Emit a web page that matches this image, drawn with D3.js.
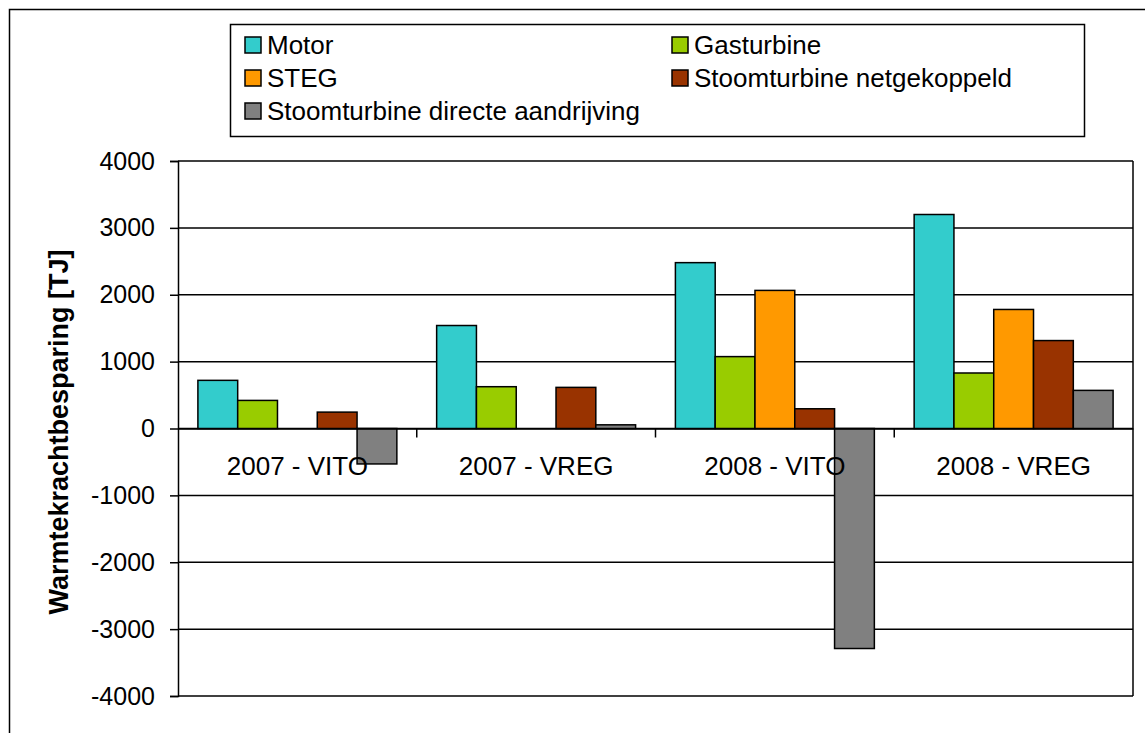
<!DOCTYPE html>
<html>
<head>
<meta charset="utf-8">
<script src="https://cdn.jsdelivr.net/npm/d3@7"></script>
<style>
    body { margin: 0; background: #fff; }
    svg { font-family: "Liberation Sans", Arial, sans-serif; }
</style>
</head>
<body>
<svg id="chart" width="1145" height="733"></svg>
<script>
// data
var categories = ["2007 - VITO", "2007 - VREG", "2008 - VITO", "2008 - VREG"]
var seriesNames = ["Motor", "Gasturbine", "STEG", "Stoomturbine netgekoppeld", "Stoomturbine directe aandrijving"]
var motor = [720, 1540, 2480, 3200]
var gasturbine = [420, 625, 1075, 830]
var steg = [0, 0, 2065, 1780]
var stoomNet = [245, 615, 295, 1315]
var stoomDirect = [-530, 55, -3290, 570]
var yTicks = [-4000, -3000, -2000, -1000, 0, 1000, 2000, 3000, 4000]
var colors = ["#33cccc", "#99cc00", "#ff9900", "#993300", "#808080"]

var values = [motor, gasturbine, steg, stoomNet, stoomDirect]

var svg = d3.select("#chart")

// outer chart border (runs off the right and bottom edge)
svg.append("rect")
    .attr("x", 9.5).attr("y", 9.5)
    .attr("width", 1160).attr("height", 760)
    .attr("fill", "none").attr("stroke", "#000").attr("stroke-width", 1.5)

var plotLeft = 178, plotRight = 1133, plotTop = 161, plotBottom = 696

var x = d3.scaleBand().domain(categories).range([plotLeft, plotRight]).paddingInner(0).paddingOuter(0)
// 5 bars per group, half a bar of space on each side
var xInner = d3.scaleBand().domain(d3.range(seriesNames.length))
    .range([0, x.bandwidth()]).paddingInner(0).paddingOuter(0.5)
var y = d3.scaleLinear().domain([-4000, 4000]).range([plotBottom, plotTop])

// gridlines
svg.append("g").selectAll("line").data(yTicks).join("line")
    .attr("x1", plotLeft).attr("x2", plotRight)
    .attr("y1", d => y(d)).attr("y2", d => y(d))
    .attr("stroke", "#000").attr("stroke-width", 1.5)

// right border of plot area
svg.append("line")
    .attr("x1", plotRight).attr("x2", plotRight)
    .attr("y1", plotTop).attr("y2", plotBottom)
    .attr("stroke", "#000").attr("stroke-width", 1.5)

// bars
var groups = svg.append("g").selectAll("g").data(categories).join("g")
    .attr("transform", d => "translate(" + x(d) + ",0)")

groups.selectAll("rect")
    .data((c, i) => values.map((v, s) => ({ s: s, v: v[i] })).filter(d => d.v !== 0))
    .join("rect")
    .attr("x", d => xInner(d.s))
    .attr("width", xInner.bandwidth())
    .attr("y", d => y(Math.max(0, d.v)))
    .attr("height", d => Math.abs(y(d.v) - y(0)))
    .attr("fill", d => colors[d.s])
    .attr("stroke", "#000").attr("stroke-width", 1.5)

// y axis
var yAxis = svg.append("g")
    .attr("transform", "translate(" + plotLeft + ",0)")
    .call(d3.axisLeft(y).tickValues(yTicks).tickSize(8).tickPadding(15).tickFormat(d => String(d)))
yAxis.select(".domain").attr("stroke-width", 1.5)
yAxis.selectAll("line").attr("stroke-width", 1.5)
yAxis.selectAll("text").attr("font-size", "25px").attr("fill", "#000")
    .attr("font-family", "'Liberation Sans', Arial, sans-serif")

// x axis at zero
var xAxis = svg.append("g")
    .attr("transform", "translate(0," + y(0) + ")")
    .call(d3.axisBottom(x).tickSize(0).tickPadding(28))
xAxis.select(".domain").attr("stroke-width", 1.5)
xAxis.selectAll("text").attr("font-size", "26px").attr("fill", "#000")
    .attr("font-family", "'Liberation Sans', Arial, sans-serif")

// small tick marks between categories
svg.append("g").selectAll("line").data(categories.slice(1)).join("line")
    .attr("x1", d => x(d)).attr("x2", d => x(d))
    .attr("y1", y(0)).attr("y2", y(0) + 9)
    .attr("stroke", "#000").attr("stroke-width", 1.5)

// y axis title
svg.append("text")
    .attr("transform", "translate(68,432) rotate(-90)")
    .attr("text-anchor", "middle")
    .attr("font-size", "27px").attr("font-weight", "bold")
    .text("Warmtekrachtbesparing [TJ]")

// legend
svg.append("rect")
    .attr("x", 230.5).attr("y", 24.5).attr("width", 854).attr("height", 112)
    .attr("fill", "#fff").attr("stroke", "#000").attr("stroke-width", 1.5)
var legendItems = svg.append("g").selectAll("g").data(seriesNames).join("g")
    .attr("transform", (d, i) => "translate(" + (i % 2 === 0 ? 245 : 672) + "," + (45 + Math.floor(i / 2) * 33) + ")")
legendItems.append("rect")
    .attr("x", 0).attr("y", -8).attr("width", 16).attr("height", 16)
    .attr("fill", (d, i) => colors[i]).attr("stroke", "#000").attr("stroke-width", 1.5)
legendItems.append("text")
    .attr("x", 22).attr("y", 0).attr("dy", "0.35em")
    .attr("font-size", "26px")
    .text(d => d)
</script>
</body>
</html>
